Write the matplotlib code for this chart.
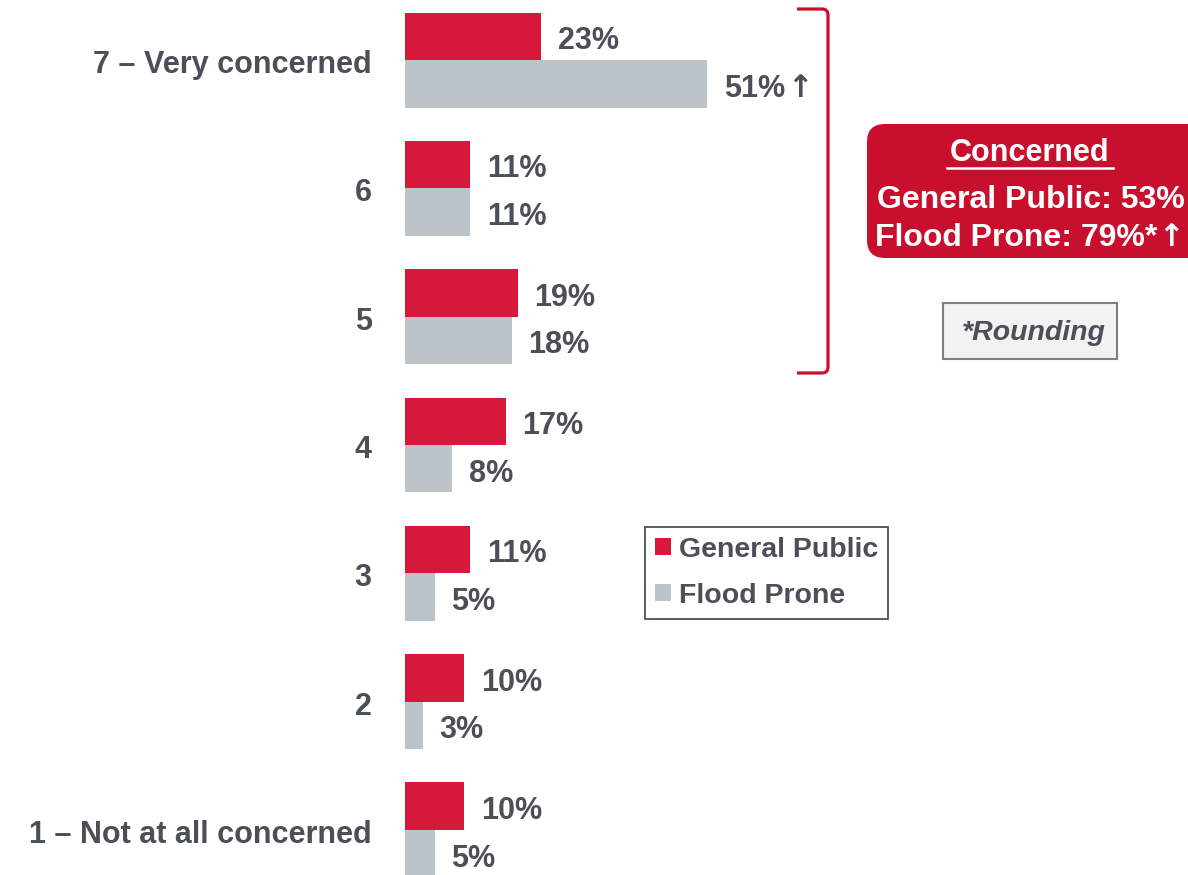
import matplotlib
matplotlib.use('Agg')
import matplotlib.pyplot as plt
from matplotlib.patches import FancyBboxPatch, Rectangle
from matplotlib.path import Path
from matplotlib.patches import PathPatch

plt.rcParams['font.family'] = ['Liberation Sans', 'DejaVu Sans']
plt.rcParams['font.weight'] = 'bold'

# data
categories = ['1 – Not at all concerned', '2', '3', '4', '5', '6', '7 – Very concerned']
general_public = [10, 10, 11, 17, 19, 11, 23]
flood_prone = [5, 3, 5, 8, 18, 11, 51]
flood_up = [False, False, False, False, False, False, True]
series_names = ['General Public', 'Flood Prone']

RED = '#D6193A'
GRAY = '#BCC3C9'
TEXT = '#4B4F58'
BOX_RED = '#C8102E'
FS = 22
DY = -3.5  # small downward nudge of labels, in points

W, H = 1188, 875
fig = plt.figure(figsize=(W / 100, H / 100), dpi=100)

# main bar axes, zero at x=405px
ax = fig.add_axes([405 / W, 0, (W - 405) / W, 1])
ax.set_xlim(0, (W - 405) / 5.93)
ax.set_ylim(-0.351, 6.468)
ax.axis('off')

h = 0.37
ypos = list(range(len(categories)))
b1 = ax.barh([y + h / 2 for y in ypos], general_public, height=h, color=RED, label=series_names[0])
b2 = ax.barh([y - h / 2 for y in ypos], flood_prone, height=h, color=GRAY, label=series_names[1])


def up_arrow(axes, target, color):
    # arrow glued to the right end of a text
    axes.annotate('↑', xy=(1, 0.5), xycoords=target, xytext=(1, 0), textcoords='offset points',
                  va='center', ha='left', fontsize=FS, color=color,
                  family='DejaVu Sans', fontweight='bold')


for y, v in zip(ypos, general_public):
    ax.annotate(f'{v}%', (v, y + h / 2), xytext=(12, DY), textcoords='offset points',
                va='center', ha='left', fontsize=FS, color=TEXT, fontweight='bold')
for y, v, up in zip(ypos, flood_prone, flood_up):
    t = ax.annotate(f'{v}%', (v, y - h / 2), xytext=(12, DY), textcoords='offset points',
                    va='center', ha='left', fontsize=FS, color=TEXT, fontweight='bold')
    if up:
        up_arrow(ax, t, TEXT)

for y, c in zip(ypos, categories):
    ax.annotate(c, (0, y), xytext=(-24, DY), textcoords='offset points',
                va='center', ha='right', fontsize=FS, color=TEXT, fontweight='bold')

fig.legend(handles=[b1, b2], loc='upper left',
           bbox_to_anchor=(645 / W, 1 - 527 / H), borderaxespad=0,
           fancybox=False, edgecolor=TEXT, framealpha=1,
           prop={'size': 20.5, 'weight': 'bold'}, labelcolor=TEXT,
           handlelength=0.55, handleheight=0.55, handletextpad=0.3,
           borderpad=0.35, labelspacing=0.7)
fig.legends[0].get_frame().set_linewidth(1.3)

# overlay in pixel coordinates for annotations
ov = fig.add_axes([0, 0, 1, 1])
ov.set_xlim(0, W)
ov.set_ylim(H, 0)
ov.axis('off')

# bracket
verts = [(797, 9), (822, 9), (828, 9), (828, 15), (828, 367), (828, 373), (822, 373), (797, 373)]
codes = [Path.MOVETO, Path.LINETO, Path.CURVE3, Path.CURVE3, Path.LINETO, Path.CURVE3, Path.CURVE3, Path.LINETO]
ov.add_patch(PathPatch(Path(verts, codes), fill=False, edgecolor=BOX_RED, lw=2.3))

# concerned box
ov.add_patch(FancyBboxPatch((867, 124), 340, 134, boxstyle='round,pad=0,rounding_size=18',
                            facecolor=BOX_RED, edgecolor='none'))
ov.text(1030, 153, 'Concerned', ha='center', va='center', fontsize=FS, color='white', fontweight='bold')
ov.plot([947, 1113], [168, 168], color='white', lw=1.8)
ov.text(1031, 200, 'General Public: 53%', ha='center', va='center', fontsize=23, color='white', fontweight='bold')
fp = ov.text(1016, 238, 'Flood Prone: 79%*', ha='center', va='center', fontsize=23, color='white', fontweight='bold')
up_arrow(ov, fp, 'white')

# rounding note
ov.add_patch(Rectangle((943, 303), 174, 56, facecolor='#F2F2F2', edgecolor='#7F7F7F', lw=1.5))
ov.text(1034, 333, '*Rounding', ha='center', va='center', fontsize=20.5, color=TEXT,
        fontweight='bold', fontstyle='italic')

fig.savefig('out.png', dpi=100)
